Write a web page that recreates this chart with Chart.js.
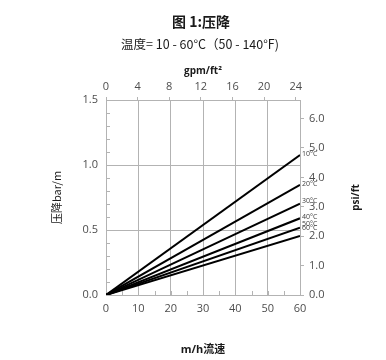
<!DOCTYPE html>
<html>
<head>
<meta charset="utf-8">
<script src="https://cdn.jsdelivr.net/npm/chart.js@4"></script>
<style>
  html, body { margin: 0; padding: 0; background: #fff; }
  #wrap { width: 386px; height: 360px; }
</style>
</head>
<body>
<div id="wrap"><canvas id="dpChart" width="386" height="360"></canvas></div>
<script>
// flow velocity (m/h) at line start / end
const flow = [0, 60];
// pressure drop bar/m per water temperature
const temps = ['10°C', '20°C', '30°C', '40°C', '50°C', '60°C'];
const dp10 = [0, 1.077];
const dp20 = [0, 0.848];
const dp30 = [0, 0.702];
const dp40 = [0, 0.590];
const dp50 = [0, 0.518];
const dp60 = [0, 0.454];
const series = [dp10, dp20, dp30, dp40, dp50, dp60];

const BAR_M_TO_PSI_FT = 4.4208;
const MH_TO_GPM_FT2 = 0.40903;

const grey = '#b3b3b3';
const tickCol = '#4d4d4d';
const font = '"Open Sans", "Noto Sans CJK SC", sans-serif';

function fixSize(w, h) {
    return function (scale) {
        if (w != null) scale.width = w;
        if (h != null) scale.height = h;
    };
}

const extras = {
    id: 'extras',
    afterDraw(c) {
        const ctx = c.ctx;
        const xs = c.scales.x, ys = c.scales.y;
        ctx.save();
        // minor ticks inside the plot
        ctx.strokeStyle = grey;
        ctx.lineWidth = 1;
        ctx.beginPath();
        for (let v = 0.1; v < 1.5; v += 0.1) {
            const py = Math.round(ys.getPixelForValue(v)) + 0.5;
            ctx.moveTo(xs.left, py); ctx.lineTo(xs.left + 4, py);
        }
        for (let v = 5; v < 60; v += 5) {
            const px = Math.round(xs.getPixelForValue(v)) + 0.5;
            ctx.moveTo(px, ys.bottom); ctx.lineTo(px, ys.bottom - 4);
        }
        ctx.stroke();

        // titles
        ctx.fillStyle = '#1a1a1a';
        ctx.textAlign = 'center';
        ctx.textBaseline = 'middle';
        ctx.font = 'bold 14px "Noto Sans CJK SC", sans-serif';
        ctx.fillText('图 1:压降', 201, 22);
        ctx.font = '12.5px "Noto Sans CJK SC", sans-serif';
        ctx.fillText('温度= 10 - 60°C（50 - 140°F)', 200, 44);

        // right axis title, reading upwards
        ctx.save();
        ctx.translate(356, ys.getPixelForValue(0.75));
        ctx.rotate(-Math.PI / 2);
        ctx.font = 'bold 10px ' + font;
        ctx.fillText('psi/ft', 0, 0);
        ctx.restore();

        // temperature labels at line ends
        const dy = [0, 0, -2, -1, -3, -7];
        ctx.font = '7px ' + font;
        ctx.fillStyle = '#404040';
        ctx.textAlign = 'left';
        ctx.textBaseline = 'bottom';
        series.forEach((s, i) => {
            const px = xs.getPixelForValue(flow[1]);
            const py = ys.getPixelForValue(s[1]);
            ctx.fillText(temps[i], px + 2, py + 3 + dy[i]);
        });
        ctx.restore();
    }
};

const datasets = series.map((s, i) => ({
    label: temps[i],
    data: flow.map((f, j) => ({ x: f, y: s[j] })),
    borderColor: '#000',
    borderWidth: 2,
    pointRadius: 0,
    showLine: true,
    fill: false,
    xAxisID: 'x',
    yAxisID: 'y'
}));

new Chart(document.getElementById('dpChart'), {
    type: 'scatter',
    data: { datasets },
    plugins: [extras],
    options: {
        responsive: false,
        animation: false,
        layout: { padding: 0 },
        plugins: { legend: { display: false }, tooltip: { enabled: false }, title: { display: false } },
        scales: {
            x: {
                type: 'linear', position: 'bottom', min: 0, max: 60,
                afterFit: fixSize(null, 65),
                ticks: { stepSize: 10, color: tickCol, font: { family: font, size: 11 }, padding: 7 },
                grid: { color: grey, drawTicks: false },
                border: { color: grey },
                title: { display: true, text: 'm/h流速', color: '#1a1a1a',
                    font: { family: font, size: 11, weight: 'bold' }, padding: { top: 0, bottom: 4 } }
            },
            x2: {
                type: 'linear', position: 'top', min: 0, max: 60 * MH_TO_GPM_FT2,
                afterFit: fixSize(null, 100),
                ticks: { stepSize: 4, includeBounds: false, color: tickCol, font: { family: font, size: 11 }, padding: 4 },
                grid: { drawOnChartArea: false, tickLength: 3, tickColor: grey },
                border: { display: false },
                title: { display: true, text: 'gpm/ft²', color: '#1a1a1a',
                    font: { family: font, size: 10, weight: 'bold' }, padding: { top: 65, bottom: 0 } }
            },
            y: {
                type: 'linear', position: 'left', min: 0, max: 1.5,
                afterFit: fixSize(106, null),
                ticks: { stepSize: 0.5, color: tickCol, font: { family: font, size: 11 }, padding: 8,
                    callback: v => v.toFixed(1) },
                grid: { color: grey, drawTicks: false },
                border: { color: grey },
                title: { display: true, text: '压降bar/m', color: '#1a1a1a',
                    font: { family: '"Noto Sans CJK SC", sans-serif', size: 11 }, padding: { top: 50, bottom: 0 } }
            },
            y2: {
                type: 'linear', position: 'right', min: 0, max: 1.5 * BAR_M_TO_PSI_FT,
                afterFit: fixSize(86, null),
                ticks: { stepSize: 1, includeBounds: false, color: tickCol, font: { family: font, size: 11 }, padding: 5,
                    callback: v => v.toFixed(1) },
                grid: { drawOnChartArea: false, tickLength: 4, tickColor: grey },
                border: { color: grey }
            }
        }
    }
});
</script>
</body>
</html>
